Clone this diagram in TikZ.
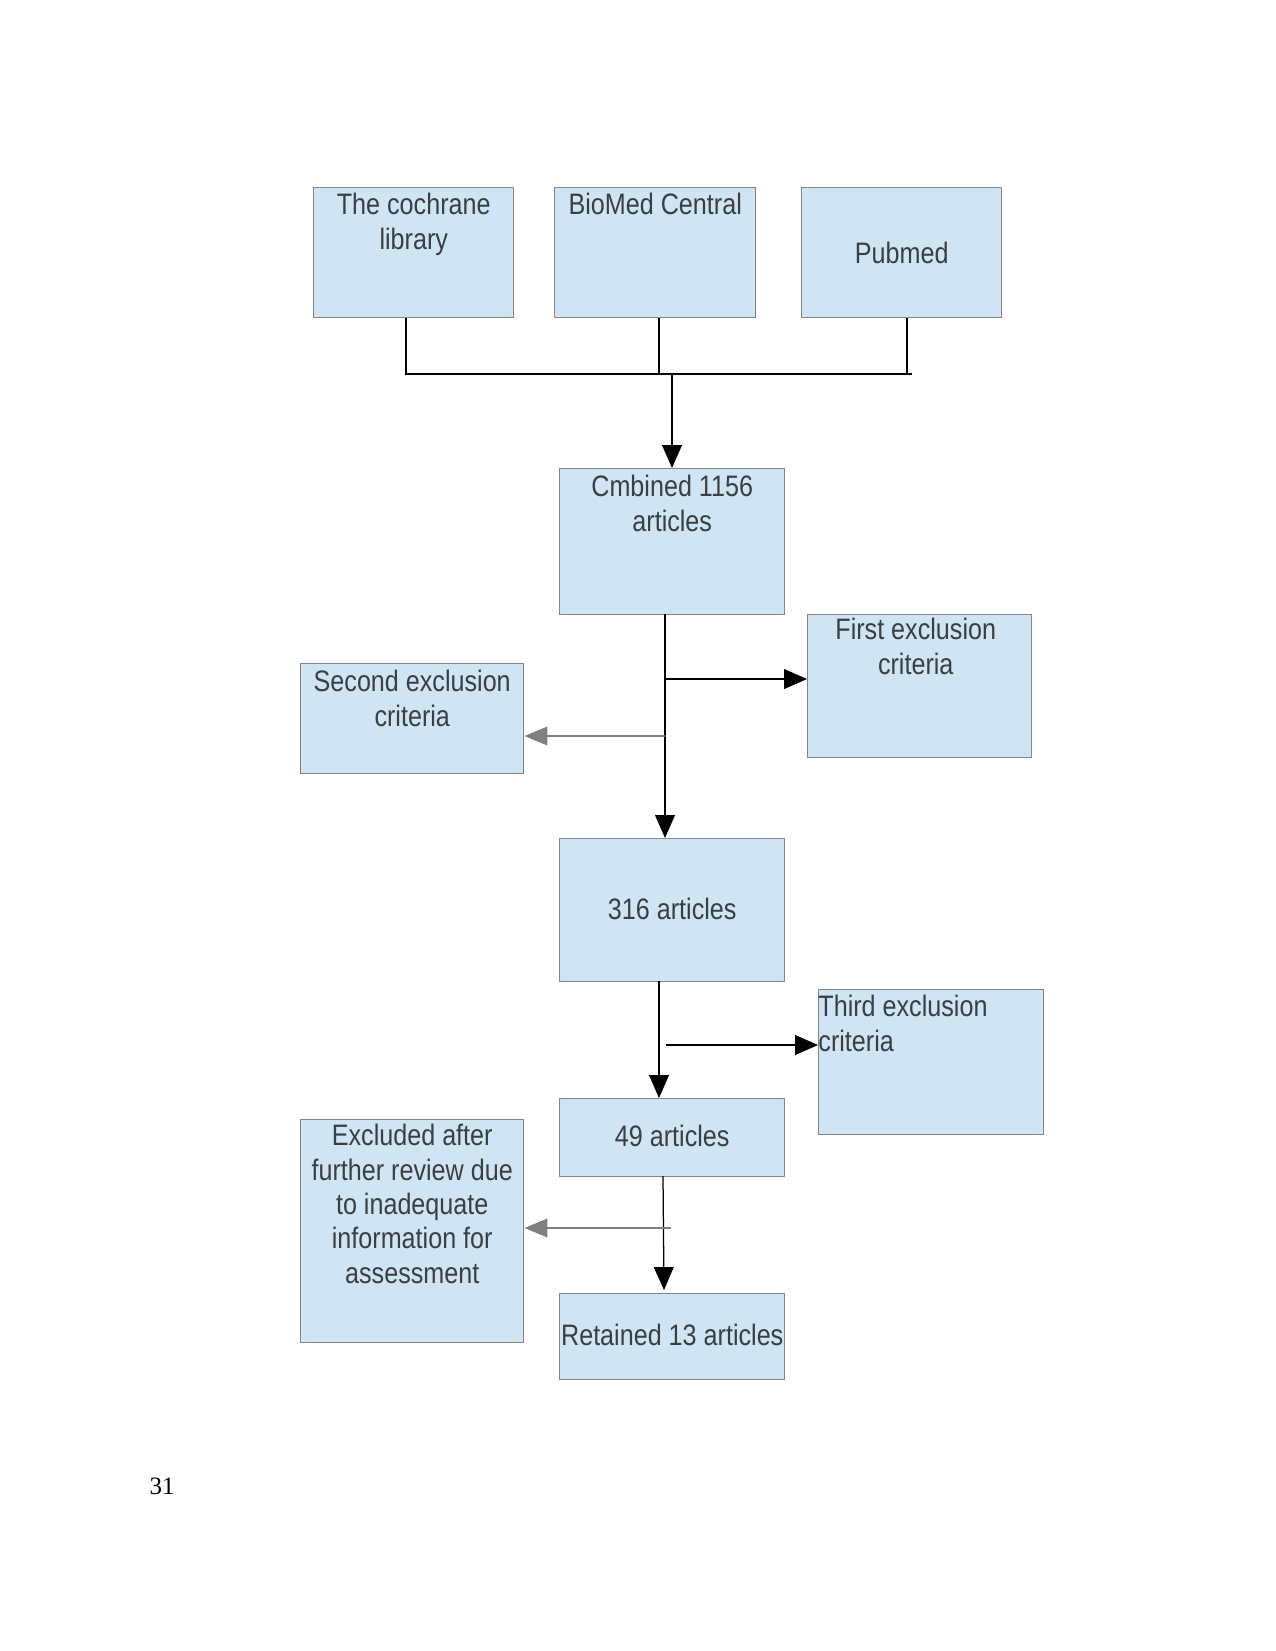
\documentclass[tikz,border=0pt]{standalone}
\usepackage{fontspec}
\setmainfont{Liberation Serif}
\newfontfamily\boxfont[FakeStretch=0.85]{Liberation Sans}
\usetikzlibrary{arrows.meta,calc}
\definecolor{boxfill}{HTML}{CFE5F3}
\definecolor{boxline}{HTML}{858585}
\definecolor{txtcol}{HTML}{3A3F44}
\definecolor{garrow}{HTML}{808080}
\begin{document}
\begin{tikzpicture}[x=0.48pt,y=-0.48pt,
  box/.style 2 args={draw=boxline, fill=boxfill, line width=0.7pt, inner sep=0pt,
    anchor=north west, minimum width=#1*0.48pt, minimum height=#2*0.48pt},
  txt/.style={font=\boxfont\fontsize{14.2}{16.5}\selectfont, text=txtcol, align=center, inner sep=0pt},
  conn/.style={draw=black, line width=0.6pt},
  arr/.style={conn, -{Triangle[length=11pt,width=9.5pt]}},
  garr/.style={draw=garrow, line width=0.6pt, -{Triangle[length=11pt,width=9pt]}}]
\useasboundingbox (0,0) rectangle (1275,1651);
% boxes
\node[box={200}{130}] (coch) at (313,187) {};
\node[box={201}{130}] (bio) at (554,187) {};
\node[box={200}{130}] (pub) at (801,187) {};
\node[box={225}{146}] (comb) at (559,468) {};
\node[box={224}{143}] (first) at (807,614) {};
\node[box={223}{110}] (second) at (300,663) {};
\node[box={225}{143}] (a316) at (559,838) {};
\node[box={225}{145}] (third) at (818,989) {};
\node[box={225}{78}] (a49) at (559,1098) {};
\node[box={223}{223}] (excl) at (300,1119) {};
\node[box={225}{86}] (ret) at (559,1293) {};
% texts
\node[txt, anchor=north] (cochT) at ($(coch.north)+(0,6)$) {The cochrane\\library};
\node[txt, anchor=north] (bioT) at ($(bio.north)+(0,6)$) {BioMed Central};
\node[txt] (pubT) at (pub.center) {Pubmed};
\node[txt, anchor=north] (combT) at ($(comb.north)+(0,7)$) {Cmbined 1156\\articles};
\node[txt, anchor=north] (firstT) at ($(first.north)+(-4,4)$) {First exclusion\\criteria};
\node[txt, anchor=north] (secondT) at ($(second.north)+(0,7)$) {Second exclusion\\criteria};
\node[txt] (a316T) at ($(a316.center)+(0,-1)$) {316 articles};
\node[txt, anchor=north west, align=left] (thirdT) at ($(third.north west)+(0,6)$) {Third exclusion\\criteria};
\node[txt] (a49T) at ($(a49.center)+(0,-2)$) {49 articles};
\node[txt, anchor=north] (exclT) at ($(excl.north)+(0,5)$) {Excluded after\\further review due\\to inadequate\\information for\\assessment};
\node[txt] (retT) at ($(ret.center)+(0,-2)$) {Retained 13 articles};
% page number
\node[font=\fontsize{12}{14}\selectfont, inner sep=0pt] (pg) at (162,1486) {31};
% junction coordinates
\coordinate (jL) at (406,374);
\coordinate (jM) at (659,374);
\coordinate (jR) at (912,374);
\coordinate (jA) at (672,374);
\coordinate (s1) at (665,614);
\coordinate (b1) at (665,679);
\coordinate (b2) at (665,736);
\coordinate (s2) at (659,981);
\coordinate (b3) at (666,1045);
\coordinate (s3) at (663,1176);
\coordinate (b4) at (671,1228);
% connectors
\draw[conn] (coch.south -| jL) -- (jL) -- (jR);
\draw[conn] (bio.south -| jM) -- (jM);
\draw[conn] (pub.south -| 907,0) -- (907,374);
\draw[arr] (jA) -- (comb.north -| jA);
\draw[arr] (s1) -- (a316.north -| s1);
\draw[arr] (b1) -- (first.west |- b1);
\draw[garr] (b2) -- (second.east |- b2);
\draw[arr] (s2) -- (a49.north -| s2);
\draw[arr] (b3) -- (third.west |- b3);
\draw[conn, -{Triangle[length=11pt,width=9.5pt]}] (s3) -- (664,1290);
\draw[garr] (b4) -- (excl.east |- b4);
\end{tikzpicture}
\end{document}
